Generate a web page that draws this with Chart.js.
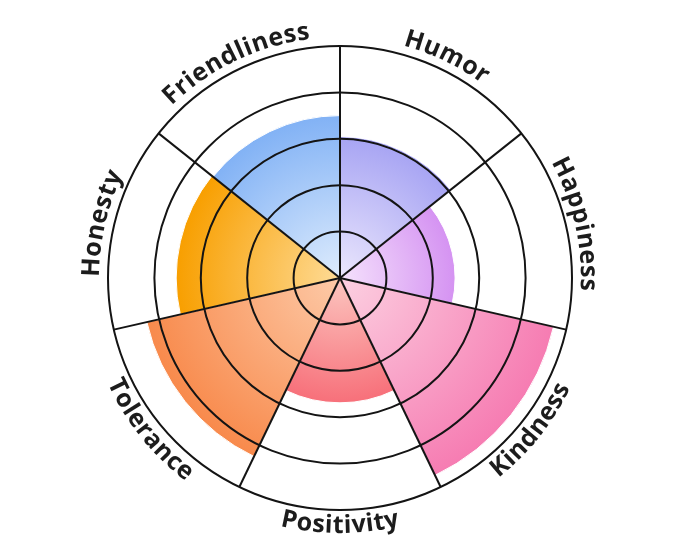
<!doctype html>
<html lang="en">

<head>
    <title>Personality wheel</title>
    <meta charset="utf-8" />
    <meta name="viewport" content="width=device-width, initial-scale=1" />
    <script src="https://cdn.jsdelivr.net/npm/chart.js@4.4.1/dist/chart.umd.min.js"></script>
    <style>
        html, body {
            margin: 0;
            padding: 0;
            background: #ffffff;
        }
        #divchart {
            width: 680px;
            height: 557px;
        }
    </style>
</head>

<body>
    <div id="divchart">
        <canvas id="myChart"></canvas>
    </div>

    <script>
        // clockwise from the top
        const labels = ['Humor', 'Happiness', 'Kindness', 'Positivity', 'Tolerance', 'Honesty', 'Friendliness'];
        const values = [3.05, 2.48, 4.72, 2.69, 4.27, 3.53, 3.5];
        const innerColors = ['#ebe7fd', '#f5e2fc', '#fcd0e1', '#fcc6c0', '#fdcaa8', '#fedb96', '#deecfd'];
        const outerColors = ['#a7a4f3', '#d593f2', '#f67cb2', '#f7707a', '#f88a4c', '#f89f00', '#82b2f5'];
        // labels drawn on the bottom half read the other way round
        const bottomLabels = ['Kindness', 'Positivity', 'Tolerance'];

        function sectorFill(context) {
            const chart = context.chart;
            const scale = chart.scales.r;
            const i = context.dataIndex;
            if (!scale || scale.xCenter == null) return outerColors[i];
            const r = scale.getDistanceFromCenterForValue(values[i]);
            const g = chart.ctx.createRadialGradient(scale.xCenter, scale.yCenter, 0, scale.xCenter, scale.yCenter, r);
            g.addColorStop(0, innerColors[i]);
            g.addColorStop(1, outerColors[i]);
            return g;
        }

        // curved labels round the outside
        const curvedLabels = {
            id: 'curvedLabels',
            afterDraw(chart) {
                const scale = chart.scales.r;
                const ctx = chart.ctx;
                const cx = scale.xCenter;
                const cy = scale.yCenter;
                const R = scale.drawingArea;
                const step = Math.PI * 2 / labels.length;
                ctx.save();
                ctx.font = 'bold 25px "Open Sans"';
                ctx.fillStyle = '#1c1c1c';
                ctx.textAlign = 'center';
                ctx.textBaseline = 'alphabetic';
                labels.forEach((text, i) => {
                    const mid = step * (i + 0.5);
                    const flip = bottomLabels.includes(text);
                    const r = flip ? R + 23 : R + 9;
                    const spacing = 0.5;
                    const widths = [...text].map(ch => ctx.measureText(ch).width + spacing);
                    const total = widths.reduce((a, b) => a + b, 0);
                    let acc = 0;
                    [...text].forEach((ch, k) => {
                        const off = (acc + widths[k] / 2) / r;
                        const a = flip ? mid + total / 2 / r - off : mid - total / 2 / r + off;
                        acc += widths[k];
                        ctx.save();
                        ctx.translate(cx + r * Math.sin(a), cy - r * Math.cos(a));
                        ctx.rotate(flip ? a - Math.PI : a);
                        ctx.fillText(ch, 0, 0);
                        ctx.restore();
                    });
                });
                ctx.restore();
            }
        };

        const ctx = document.getElementById('myChart').getContext('2d');
        const myChart = new Chart(ctx, {
            type: 'polarArea',
            data: {
                labels: labels,
                datasets: [{
                    data: values,
                    backgroundColor: sectorFill,
                    borderColor: '#ffffff',
                    borderWidth: 1
                }]
            },
            options: {
                responsive: true,
                maintainAspectRatio: false,
                animation: false,
                layout: { padding: 46 },
                plugins: {
                    legend: { display: false },
                    tooltip: { enabled: false }
                },
                scales: {
                    r: {
                        z: 1,
                        min: 0,
                        max: 5,
                        startAngle: 0,
                        ticks: { display: false, stepSize: 1 },
                        grid: { z: 1, circular: true, color: '#141414', lineWidth: 2 },
                        angleLines: { display: true, color: '#141414', lineWidth: 2 },
                        pointLabels: { display: false }
                    }
                }
            },
            plugins: [curvedLabels]
        });
    </script>
</body>

</html>
